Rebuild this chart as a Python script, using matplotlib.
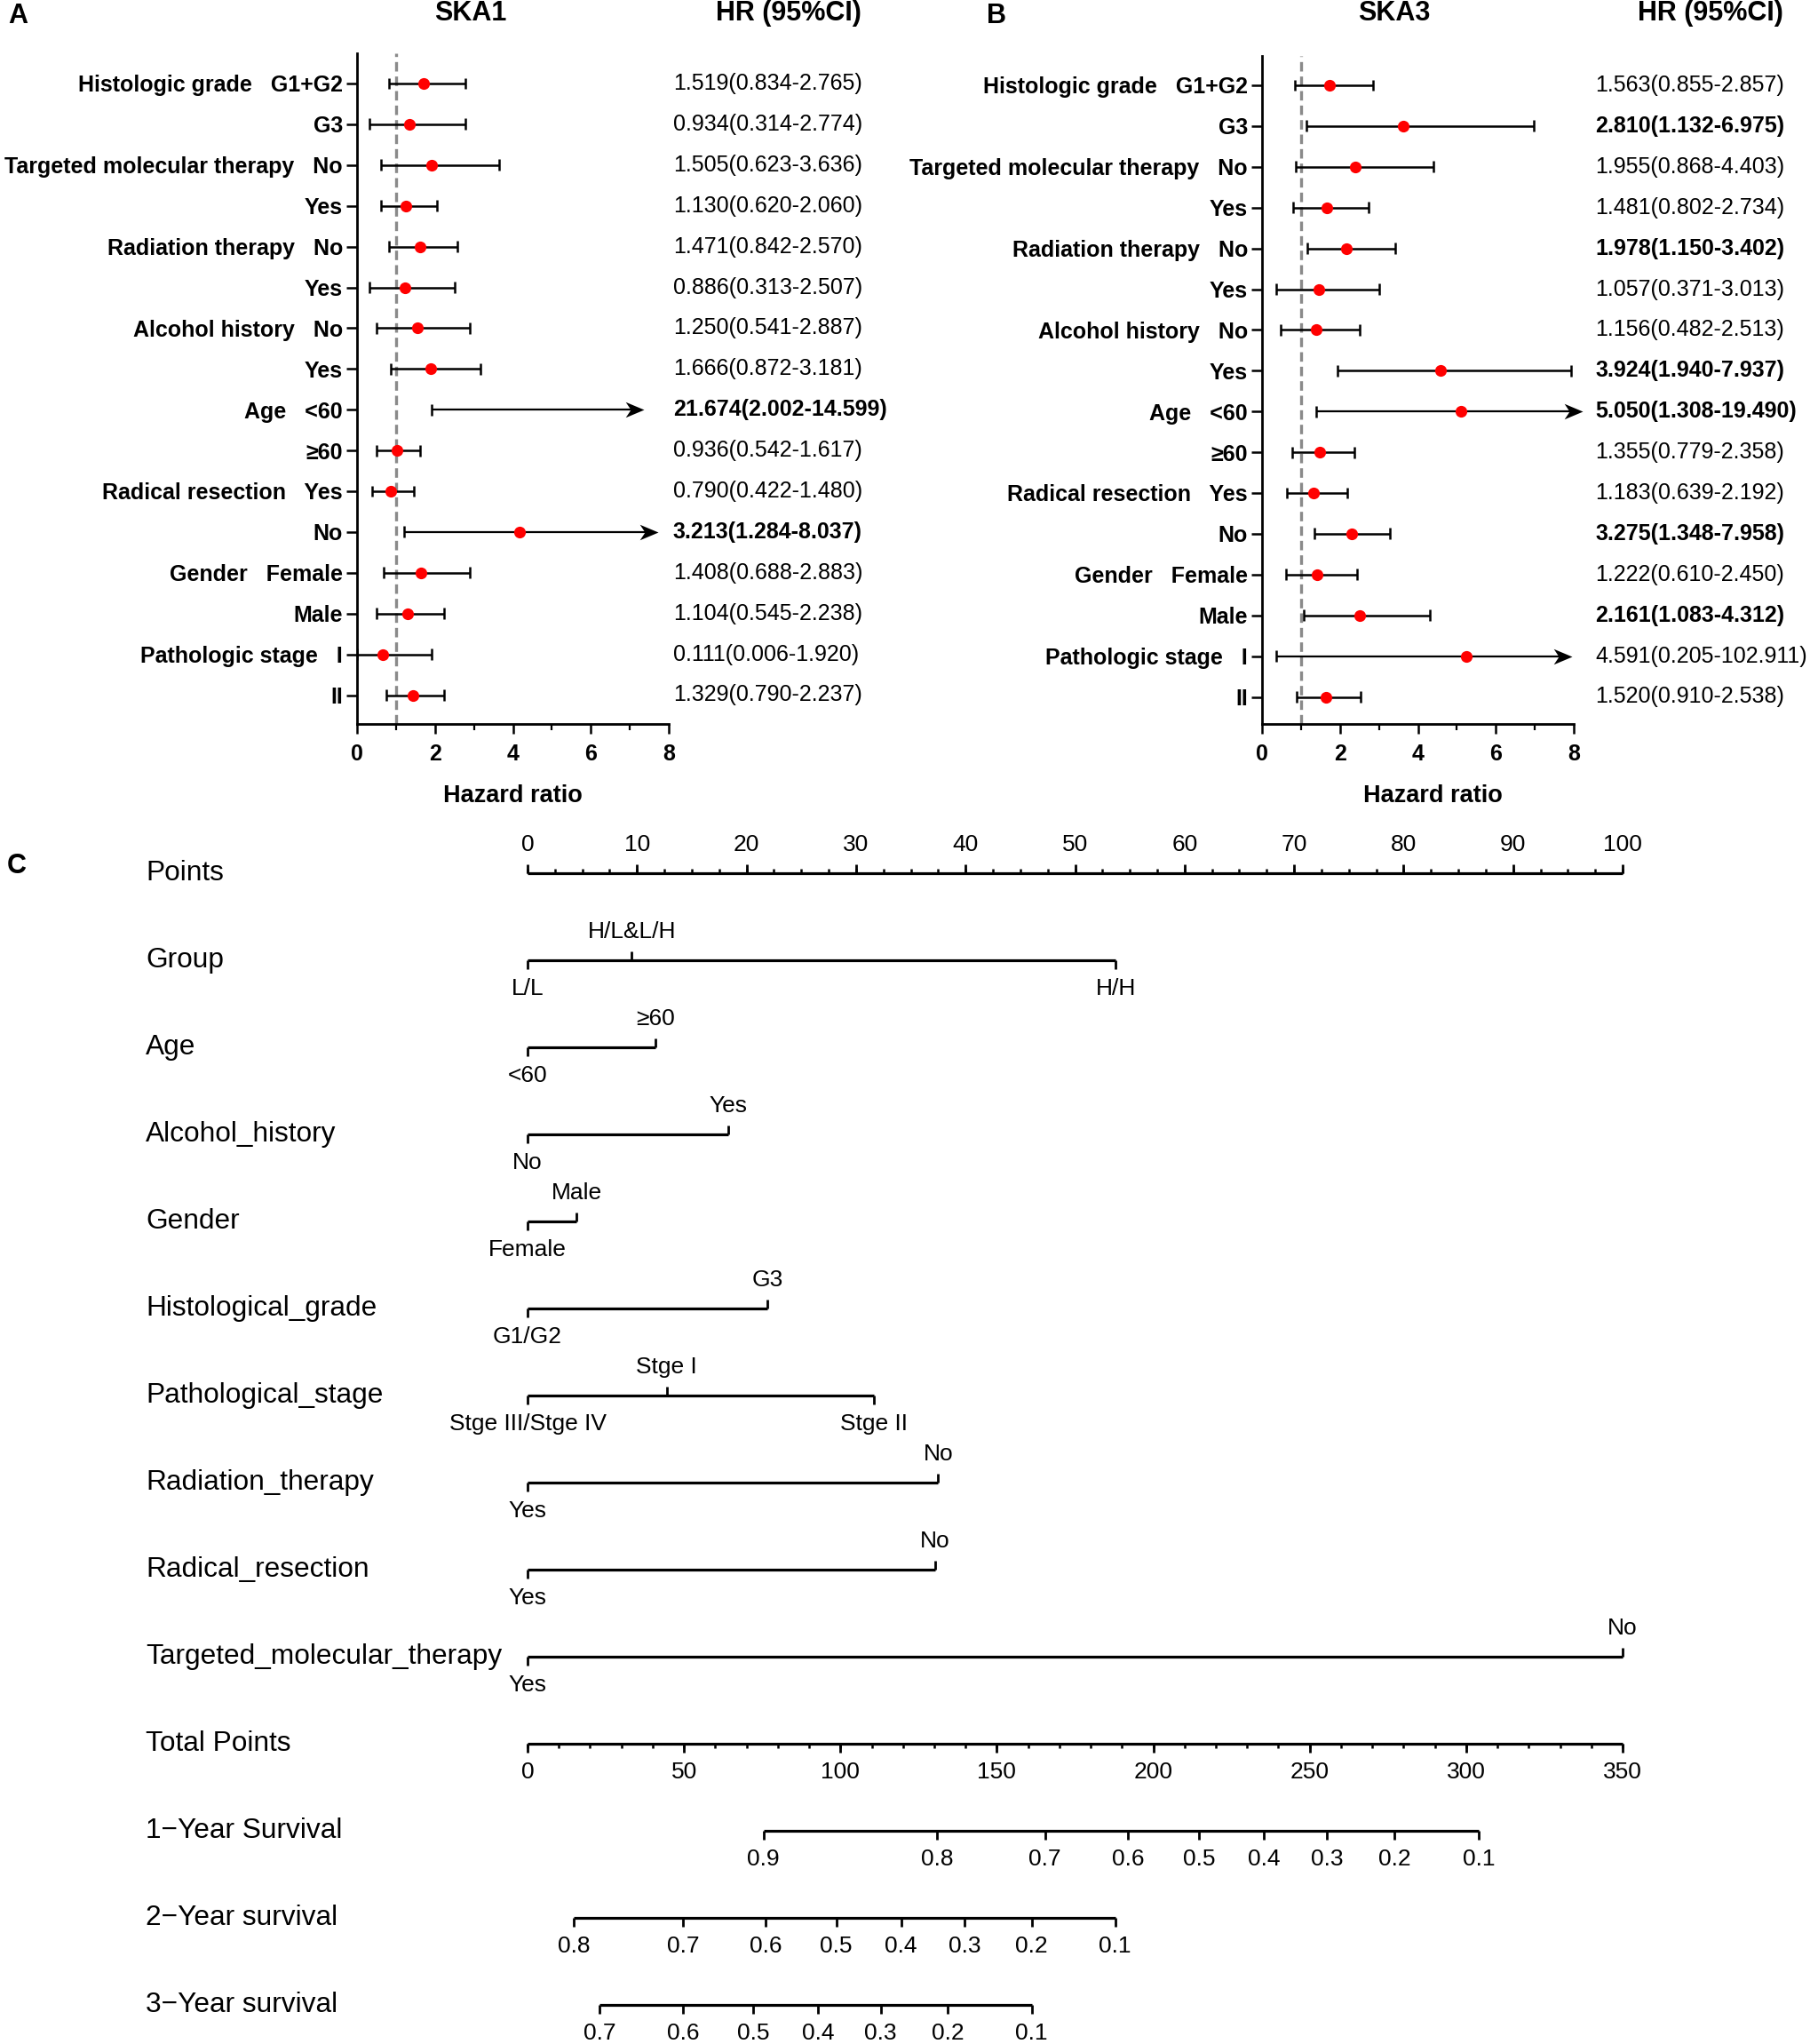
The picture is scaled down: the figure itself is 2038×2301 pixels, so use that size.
import numpy as np
import matplotlib
matplotlib.use("Agg")
import matplotlib.pyplot as plt
from matplotlib.path import Path

plt.rcParams['font.family'] = ['Liberation Sans', 'DejaVu Sans']

'''
Forest plots for SKA1 / SKA3 (A, B) and the nomogram (C)
'''

# ---------------- forest data ----------------
row_labels = ["Histologic grade   G1+G2", "G3",
              "Targeted molecular therapy   No", "Yes",
              "Radiation therapy   No", "Yes",
              "Alcohol history   No", "Yes",
              "Age   <60", "≥60",
              "Radical resection   Yes", "No",
              "Gender   Female", "Male",
              "Pathologic stage   I", "II"]

# SKA1
a_lo = [0.82, 0.31, 0.62, 0.62, 0.82, 0.31, 0.51, 0.87, 1.91, 0.51, 0.39, 1.20, 0.68, 0.51, 0.0, 0.76]
a_dot = [1.70, 1.34, 1.91, 1.26, 1.61, 1.22, 1.54, 1.89, np.nan, 1.02, 0.87, 4.17, 1.65, 1.30, 0.67, 1.44]
a_hi = [2.77, 2.77, 3.65, 2.05, 2.57, 2.50, 2.89, 3.16, np.nan, 1.61, 1.47, np.nan, 2.89, 2.23, 1.91, 2.23]
a_tip = [np.nan] * 8 + [7.36, np.nan, np.nan, 7.72] + [np.nan] * 4
a_hr = ["1.519(0.834-2.765)", "0.934(0.314-2.774)", "1.505(0.623-3.636)", "1.130(0.620-2.060)",
        "1.471(0.842-2.570)", "0.886(0.313-2.507)", "1.250(0.541-2.887)", "1.666(0.872-3.181)",
        "21.674(2.002-14.599)", "0.936(0.542-1.617)", "0.790(0.422-1.480)", "3.213(1.284-8.037)",
        "1.408(0.688-2.883)", "1.104(0.545-2.238)", "0.111(0.006-1.920)", "1.329(0.790-2.237)"]
a_bold = [8, 11]

# SKA3
b_lo = [0.84, 1.13, 0.86, 0.80, 1.16, 0.37, 0.48, 1.93, 1.38, 0.78, 0.63, 1.35, 0.61, 1.06, 0.37, 0.90]
b_dot = [1.74, 3.62, 2.40, 1.66, 2.17, 1.47, 1.38, 4.59, 5.11, 1.49, 1.32, 2.30, 1.42, 2.51, 5.25, 1.65]
b_hi = [2.85, 6.98, 4.41, 2.74, 3.41, 3.01, 2.51, 7.94, np.nan, 2.36, 2.18, 3.28, 2.44, 4.31, np.nan, 2.52]
b_tip = [np.nan] * 8 + [8.23] + [np.nan] * 5 + [7.96, np.nan]
b_hr = ["1.563(0.855-2.857)", "2.810(1.132-6.975)", "1.955(0.868-4.403)", "1.481(0.802-2.734)",
        "1.978(1.150-3.402)", "1.057(0.371-3.013)", "1.156(0.482-2.513)", "3.924(1.940-7.937)",
        "5.050(1.308-19.490)", "1.355(0.779-2.358)", "1.183(0.639-2.192)", "3.275(1.348-7.958)",
        "1.222(0.610-2.450)", "2.161(1.083-4.312)", "4.591(0.205-102.911)", "1.520(0.910-2.538)"]
b_bold = [1, 4, 7, 8, 11, 13]

# ---------------- nomogram data ----------------
nomo_vars = ["Group", "Age", "Alcohol_history", "Gender", "Histological_grade",
             "Pathological_stage", "Radiation_therapy", "Radical_resection",
             "Targeted_molecular_therapy"]
nomo_levels = [["L/L", "H/L&L/H", "H/H"], ["<60", "≥60"], ["No", "Yes"], ["Female", "Male"],
               ["G1/G2", "G3"], ["Stge III/Stge IV", "Stge I", "Stge II"], ["Yes", "No"],
               ["Yes", "No"], ["Yes", "No"]]
nomo_points = [[0, 9.5, 53.7], [0, 11.7], [0, 18.3], [0, 4.5], [0, 21.9], [0, 12.7, 31.6],
               [0, 37.5], [0, 37.2], [0, 100]]

surv_names = ["1\u2212Year Survival", "2\u2212Year survival", "3\u2212Year survival"]
surv_labels = [["0.9", "0.8", "0.7", "0.6", "0.5", "0.4", "0.3", "0.2", "0.1"],
               ["0.8", "0.7", "0.6", "0.5", "0.4", "0.3", "0.2", "0.1"],
               ["0.7", "0.6", "0.5", "0.4", "0.3", "0.2", "0.1"]]
surv_total = [[75.4, 131.0, 165.4, 191.9, 214.7, 235.3, 255.6, 277.1, 304.1],
              [14.9, 49.7, 76.2, 98.7, 119.4, 139.7, 161.1, 187.8],
              [23.0, 49.7, 72.2, 92.8, 112.9, 134.4, 161.1]]
total_max = 350

W, H = 2038, 2301
fig = plt.figure(figsize=(W / 100, H / 100), dpi=100)

# notched arrow head, tip at the origin
head = Path([(0, 0), (-1, 0.42), (-0.72, 0), (-1, -0.42), (0, 0)],
            [Path.MOVETO, Path.LINETO, Path.LINETO, Path.LINETO, Path.CLOSEPOLY])


def ftext(x, y, s, **kw):
    fig.text(x / W, 1 - y / H, s, **kw)


def forest(left, top, first_row, lo, dot, hi, tip, hr, bold, hr_x, title, title_x, letter, letter_x, xlab_x):
    right, bottom, step = left + 351, 815, 45.9
    ax = fig.add_axes([left / W, 1 - bottom / H, (right - left) / W, (bottom - top) / H])
    ax.set_xlim(0, 8)
    ax.set_ylim((bottom - first_row) / step, (top - first_row) / step)
    for s in ['top', 'right']:
        ax.spines[s].set_visible(False)
    for s in ['left', 'bottom']:
        ax.spines[s].set_linewidth(2.0)
    ax.axvline(1, color='#8a8a8a', ls=(0, (3.2, 1.7)), lw=2.4, zorder=1)
    cap = 0.14
    for i in range(len(lo)):
        if np.isnan(tip[i]):
            ax.hlines(i, lo[i], hi[i], color='black', lw=1.8, zorder=2)
            ax.vlines([lo[i], hi[i]], i - cap, i + cap, color='black', lw=1.8, zorder=2)
        else:
            ax.vlines(lo[i], i - cap, i + cap, color='black', lw=1.8, zorder=2)
            ax.hlines(i, lo[i], tip[i] - 0.2, color='black', lw=1.6, zorder=2, clip_on=False)
            ax.plot(tip[i], i, marker=head, ms=30, color='black', mew=0, zorder=2, clip_on=False)
        if not np.isnan(dot[i]):
            ax.plot(dot[i], i, 'o', color='#ff0000', ms=9.5, mew=0, zorder=3, clip_on=False)
        ax.text(hr_x, i, hr[i], fontsize=18, va='center', ha='left',
                fontweight='bold' if i in bold else 'normal', clip_on=False)
    ax.set_yticks(range(len(lo)))
    ax.set_yticklabels(row_labels, fontsize=18, fontweight='bold')
    ax.tick_params(axis='y', length=8.5, width=1.8, pad=3)
    ax.set_xticks([0, 2, 4, 6, 8])
    ax.set_xticks([1, 3, 5, 7], minor=True)
    ax.set_xticklabels(['0', '2', '4', '6', '8'], fontsize=18, fontweight='bold')
    ax.tick_params(axis='x', which='major', length=8, width=1.8, pad=8)
    ax.tick_params(axis='x', which='minor', length=5, width=1.6)
    ftext(xlab_x, 896, 'Hazard ratio', fontsize=19.5, fontweight='bold', ha='center', va='center')
    ftext(title_x, 15, title, fontsize=22, fontweight='bold', ha='center', va='center')
    ftext(hr_x * 351 / 8 + left + 130, 15, 'HR (95%CI)', fontsize=22, fontweight='bold', ha='center', va='center')
    ftext(letter_x, 18, letter, fontsize=22, fontweight='bold', ha='center', va='center')
    return ax


forest(402, 60, 94, a_lo, a_dot, a_hi, a_tip, a_hr, a_bold, 8.11, 'SKA1', 530, 'A', 20, 577)
forest(1421, 63, 96, b_lo, b_dot, b_hi, b_tip, b_hr, b_bold, 8.55, 'SKA3', 1570, 'B', 1122, 1613)

# ---------------- nomogram ----------------
x0, x100, row0, rstep = 594, 1827, 983, 98.0
sc = (x100 - x0) / 100.0
ax3 = fig.add_axes([0, 0, 1, 1])
ax3.set_xlim(-x0 / sc, (W - x0) / sc)
ax3.set_ylim((H - row0) / rstep, -row0 / rstep)
ax3.set_axis_off()

lw = 2.3
big, small = 0.1, 0.052
lab_fs, val_fs = 22.8, 19
lab_x = (164 - x0) / sc
off = 23

ftext(19, 975, 'C', fontsize=22, fontweight='bold', ha='center', va='center')

# Points scale
ax3.text(lab_x, 0, 'Points', fontsize=lab_fs, va='center', ha='left')
ax3.hlines(0, 0, 100, color='black', lw=lw)
major = np.arange(0, 101, 10)
minor = np.arange(0, 100.1, 2.5)
ax3.vlines(minor, -small, 0, color='black', lw=1.8)
ax3.vlines(major, -big, 0, color='black', lw=2.0)
for m in major:
    ax3.annotate(str(int(m)), (m, 0), xytext=(0, off), textcoords='offset points',
                 ha='center', va='center', fontsize=val_fs)

# variable rows
for r, (name, levs, pts) in enumerate(zip(nomo_vars, nomo_levels, nomo_points), start=1):
    ax3.text(lab_x, r, name, fontsize=lab_fs, va='center', ha='left')
    ax3.hlines(r, min(pts), max(pts), color='black', lw=lw)
    for k, (lv, p) in enumerate(zip(levs, pts)):
        sgn = 1 if k % 2 == 0 else -1
        ax3.vlines(p, r, r + sgn * big, color='black', lw=2.0)
        ax3.annotate(lv, (p, r), xytext=(0, -sgn * off), textcoords='offset points',
                     ha='center', va='center', fontsize=val_fs)

# Total points
rt = len(nomo_vars) + 1
ax3.text(lab_x, rt, 'Total Points', fontsize=lab_fs, va='center', ha='left')
ax3.hlines(rt, 0, 100, color='black', lw=lw)
tmaj = np.arange(0, total_max + 1, 50)
tmin = np.arange(0, total_max + 1, 10)
ax3.vlines(tmin * 100 / total_max, rt, rt + small, color='black', lw=1.8)
ax3.vlines(tmaj * 100 / total_max, rt, rt + big, color='black', lw=2.0)
for t in tmaj:
    ax3.annotate(str(int(t)), (t * 100 / total_max, rt), xytext=(0, -off), textcoords='offset points',
                 ha='center', va='center', fontsize=val_fs)

# survival scales
for j, (name, labs, tot) in enumerate(zip(surv_names, surv_labels, surv_total)):
    r = rt + 1 + j
    xs = np.array(tot) * 100 / total_max
    ax3.text(lab_x, r, name, fontsize=lab_fs, va='center', ha='left')
    ax3.hlines(r, xs.min(), xs.max(), color='black', lw=lw)
    ax3.vlines(xs, r, r + big, color='black', lw=2.0)
    for lb, xv in zip(labs, xs):
        ax3.annotate(lb, (xv, r), xytext=(0, -off), textcoords='offset points',
                     ha='center', va='center', fontsize=val_fs)

fig.savefig('out.png', dpi=100)
